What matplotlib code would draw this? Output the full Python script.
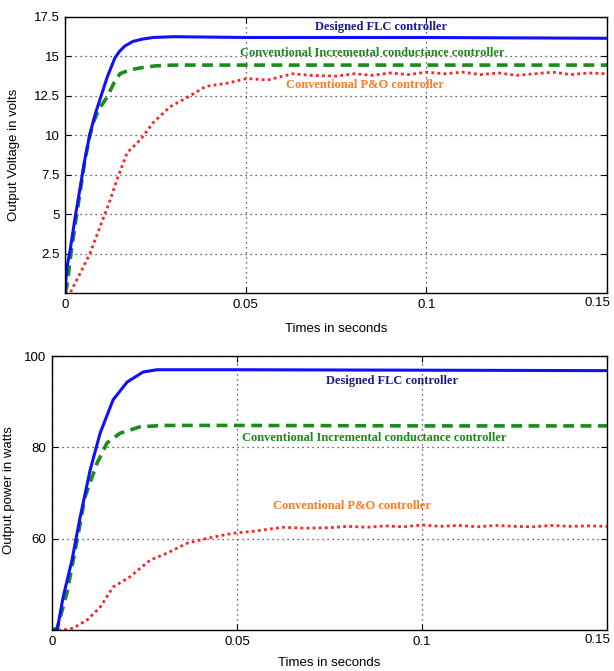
import numpy as np
import matplotlib.pyplot as plt
from matplotlib.transforms import ScaledTranslation

# ---- data ----
# voltage plot
t_flc_v = [0, 0.0005, 0.0014, 0.0028, 0.0042, 0.0055, 0.0069, 0.0083, 0.0097, 0.0117,
           0.0138, 0.015, 0.0165, 0.0188, 0.0215, 0.0244, 0.03, 0.05, 0.1, 0.15]
v_flc = [0, 1.6, 2.7, 4.8, 6.7, 8.5, 10.1, 11.3, 12.3, 13.7,
         14.9, 15.3, 15.65, 15.95, 16.1, 16.2, 16.25, 16.2, 16.2, 16.15]

t_inc_v = [0, 0.0005, 0.0017, 0.0033, 0.0045, 0.0055, 0.0067, 0.0078, 0.0095, 0.0116,
           0.0135, 0.0152, 0.018, 0.0216, 0.025, 0.03, 0.05, 0.1, 0.15]
v_inc = [0, 0.4, 2.6, 5.1, 6.9, 8.4, 9.8, 10.8, 11.7, 12.4,
         13.3, 13.9, 14.15, 14.3, 14.4, 14.45, 14.45, 14.45, 14.45]

t_po_v = [0, 0.0014, 0.0042, 0.0069, 0.0097, 0.0125, 0.0144, 0.0172, 0.0208, 0.0244,
          0.029, 0.0338, 0.039, 0.0448, 0.0504, 0.056, 0.063, 0.068, 0.075, 0.08,
          0.085, 0.09, 0.095, 0.1, 0.105, 0.11, 0.115, 0.12, 0.125, 0.13,
          0.135, 0.14, 0.145, 0.15]
v_po = [0, 0, 1.25, 2.5, 4.2, 5.9, 7.2, 8.9, 9.7, 10.8,
        11.8, 12.4, 13.1, 13.3, 13.6, 13.5, 13.9, 13.8, 13.75, 13.9,
        13.8, 13.95, 13.85, 14.0, 13.9, 14.0, 13.85, 13.95, 13.8, 13.9,
        14.0, 13.85, 13.95, 13.9]

# power plot
t_flc_p = [0, 0.0014, 0.003, 0.0054, 0.0076, 0.0103, 0.013, 0.0165, 0.0203, 0.0246,
           0.0284, 0.05, 0.1, 0.15]
p_flc = [40, 40, 47.2, 55.3, 64.7, 75, 83.1, 90.4, 94.3, 96.5,
         97, 97, 96.9, 96.8]

t_inc_p = [0, 0.0014, 0.004, 0.0068, 0.0089, 0.0122, 0.0149, 0.0184, 0.0238, 0.03,
           0.05, 0.1, 0.15]
p_inc = [40, 40.4, 48, 59.7, 69.1, 76.6, 81, 83.1, 84.5, 84.8,
         84.8, 84.7, 84.7]

t_po_p = [0, 0.003, 0.0057, 0.0095, 0.013, 0.0165, 0.021, 0.0265, 0.031, 0.0365,
          0.042, 0.049, 0.0543, 0.0624, 0.068, 0.075, 0.08, 0.085, 0.09, 0.095,
          0.1, 0.105, 0.11, 0.115, 0.12, 0.125, 0.13, 0.135, 0.14, 0.145, 0.15]
p_po = [40, 40, 40.4, 42.2, 45, 49.4, 51.6, 55.3, 56.8, 59,
        60.1, 61.2, 61.6, 62.5, 62.3, 62.4, 62.7, 62.5, 62.8, 62.6,
        63, 62.7, 62.9, 62.6, 62.9, 62.7, 62.6, 62.9, 62.7, 62.8, 62.7]

v_ticks = [2.5, 5, 7.5, 10, 12.5, 15, 17.5]
p_ticks = [60, 80, 100]
t_ticks = [0, 0.05, 0.1, 0.15]
t_labels = ['0', '0.05', '0.1', '0.15']

lbl_flc = 'Designed FLC controller'
lbl_inc = 'Conventional Incremental conductance controller'
lbl_po = 'Conventional P&O controller'

c_blue, c_green, c_red = '#1010ff', '#1a8c1a', '#ff2020'
c_navy, c_tgreen, c_orange = '#1a1a90', '#1a8a1a', '#ff7a20'

plt.rcParams['font.family'] = 'Liberation Sans'

fig = plt.figure(figsize=(6.14, 6.71), dpi=100)
ax1 = fig.add_axes([0.1059, 0.5633, 0.8827, 0.4114])
ax2 = fig.add_axes([0.0847, 0.0611, 0.9039, 0.4083])


def style(ax):
    ax.tick_params(direction='in', top=True, right=True, length=4, labelsize=9.5, pad=4)
    ax.grid(True, linestyle=(0, (1, 3)), color='#333333', linewidth=0.9)
    for s in ax.spines.values():
        s.set_linewidth(1.0)
    ax.set_xticks(t_ticks)
    ax.set_xticklabels(t_labels)
    ax.set_xlim(0, 0.15)
    # last label kept inside the figure, like the original
    last = ax.get_xticklabels()[-1]
    last.set_horizontalalignment('right')
    last.set_transform(last.get_transform() + ScaledTranslation(3 / 100, 2 / 100, fig.dpi_scale_trans))


# top: voltage
ax1.plot(t_po_v, v_po, color=c_red, linestyle=(0, (1, 1.2)), linewidth=2)
ax1.plot(t_inc_v, v_inc, color=c_green, linestyle=(0, (3, 1.8)), linewidth=2.6)
ax1.plot(t_flc_v, v_flc, color=c_blue, linewidth=2.2)
style(ax1)
ax1.set_ylim(0, 17.5)
ax1.set_yticks(v_ticks)
ax1.set_yticklabels([f'{v:g}' for v in v_ticks])
ax1.set_xlabel('Times in seconds', fontsize=9.5)
ax1.set_ylabel('Output Voltage in volts', fontsize=9.5)
ax1.xaxis.set_label_coords(0.5, -0.11)
ax1.yaxis.set_label_coords(-0.083, 0.5)
tf = dict(family='Liberation Serif', fontweight='bold', fontsize=9)
ax1.text(0.0875, 16.88, lbl_flc, color=c_navy, ha='center', va='center', **tf)
ax1.text(0.085, 15.23, lbl_inc, color=c_tgreen, ha='center', va='center', **tf)
ax1.text(0.083, 13.2, lbl_po, color=c_orange, ha='center', va='center', **tf)

# bottom: power
ax2.plot(t_po_p, p_po, color=c_red, linestyle=(0, (1, 1.2)), linewidth=2)
ax2.plot(t_inc_p, p_inc, color=c_green, linestyle=(0, (3, 1.8)), linewidth=2.6)
ax2.plot(t_flc_p, p_flc, color=c_blue, linewidth=2.2)
style(ax2)
ax2.set_ylim(40, 100)
ax2.set_yticks(p_ticks)
ax2.set_yticklabels([str(p) for p in p_ticks])
ax2.set_xlabel('Times in seconds', fontsize=9.5)
ax2.set_ylabel('Output power in watts', fontsize=9.5)
ax2.xaxis.set_label_coords(0.5, -0.1)
ax2.yaxis.set_label_coords(-0.066, 0.51)
ax2.text(0.092, 94.5, lbl_flc, color=c_navy, ha='center', va='center', **tf)
ax2.text(0.087, 82.0, lbl_inc, color=c_tgreen, ha='center', va='center', **tf)
ax2.text(0.081, 67.2, lbl_po, color=c_orange, ha='center', va='center', **tf)

fig.savefig('out.png', dpi=100)
